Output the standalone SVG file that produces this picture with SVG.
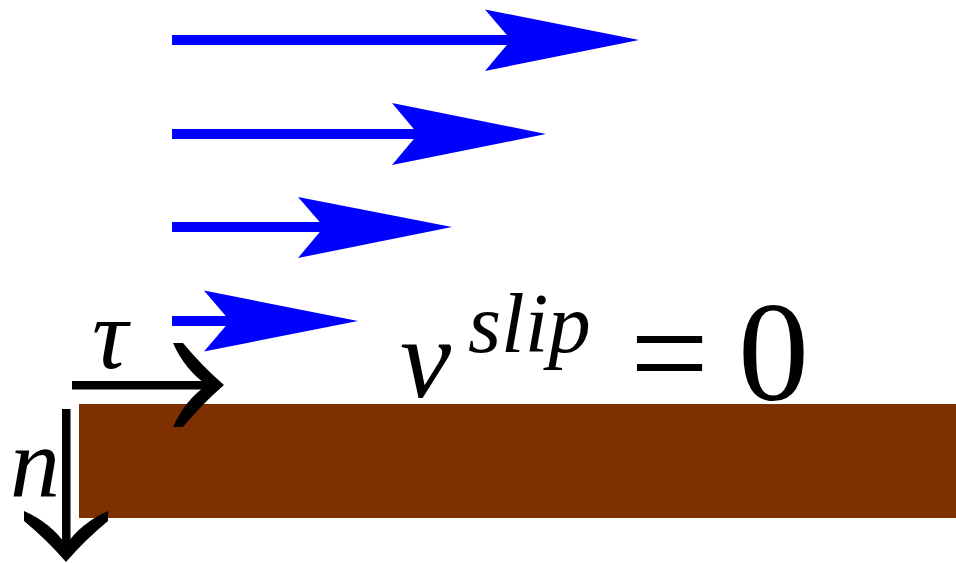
<svg xmlns="http://www.w3.org/2000/svg" width="956" height="563" viewBox="0 0 956 563">
<style>
.flow{fill:#0000ff}
.ink{fill:#000}
text{font-family:'Liberation Serif','Times New Roman',Times,Tinos,'Noto Serif','DejaVu Serif',FreeSerif,serif;fill:#000}
.it{font-style:italic}
</style>
<defs>
<path id="head" d="M0 0 Q-22 -19 -41 -42 L-51 -42 Q-39 -15 -17 0 Q-39 15 -51 42 L-41 42 Q-22 19 0 0 Z"/>
</defs>
<rect width="956" height="563" fill="#fff"/>
<g id="wall"><rect x="79" y="404" width="877" height="114" fill="#7f3000"/></g>
<g id="connectors">
<g id="flow1"><rect class="flow" x="172" y="35" width="340" height="10"/><path class="flow" d="M639 40 L485 9.5 L511 40 L485 71 Z"/></g>
<g id="flow2"><rect class="flow" x="172" y="129" width="248" height="10"/><path class="flow" d="M546 134 L392 103 L418 134 L392 165 Z"/></g>
<g id="flow3"><rect class="flow" x="172" y="222" width="154" height="10"/><path class="flow" d="M452 227 L298 197 L324 227 L298 258 Z"/></g>
<g id="flow4"><rect class="flow" x="172" y="316" width="60" height="10"/><path class="flow" d="M358 321 L204 290.5 L230 321 L204 351.5 Z"/></g>
<g id="tau-arrow"><rect class="ink" x="72" y="381" width="138" height="8.5"/><use href="#head" class="ink" transform="translate(224 385)"/></g>
<g id="n-arrow"><rect class="ink" x="62" y="409" width="8.5" height="138"/><use href="#head" class="ink" transform="translate(66 562) rotate(90)"/></g>
</g>
<g id="labels">
<text class="it" x="92" y="368" font-size="100">τ</text>
<text class="it" x="10" y="496" font-size="100">n</text>
<text class="it" x="400" y="397" font-size="115">v</text>
<text class="it" x="468" y="352" font-size="85">slip</text>
<text x="630" y="400" font-size="140">=</text>
<text x="738" y="400" font-size="142">0</text>
</g>
</svg>
